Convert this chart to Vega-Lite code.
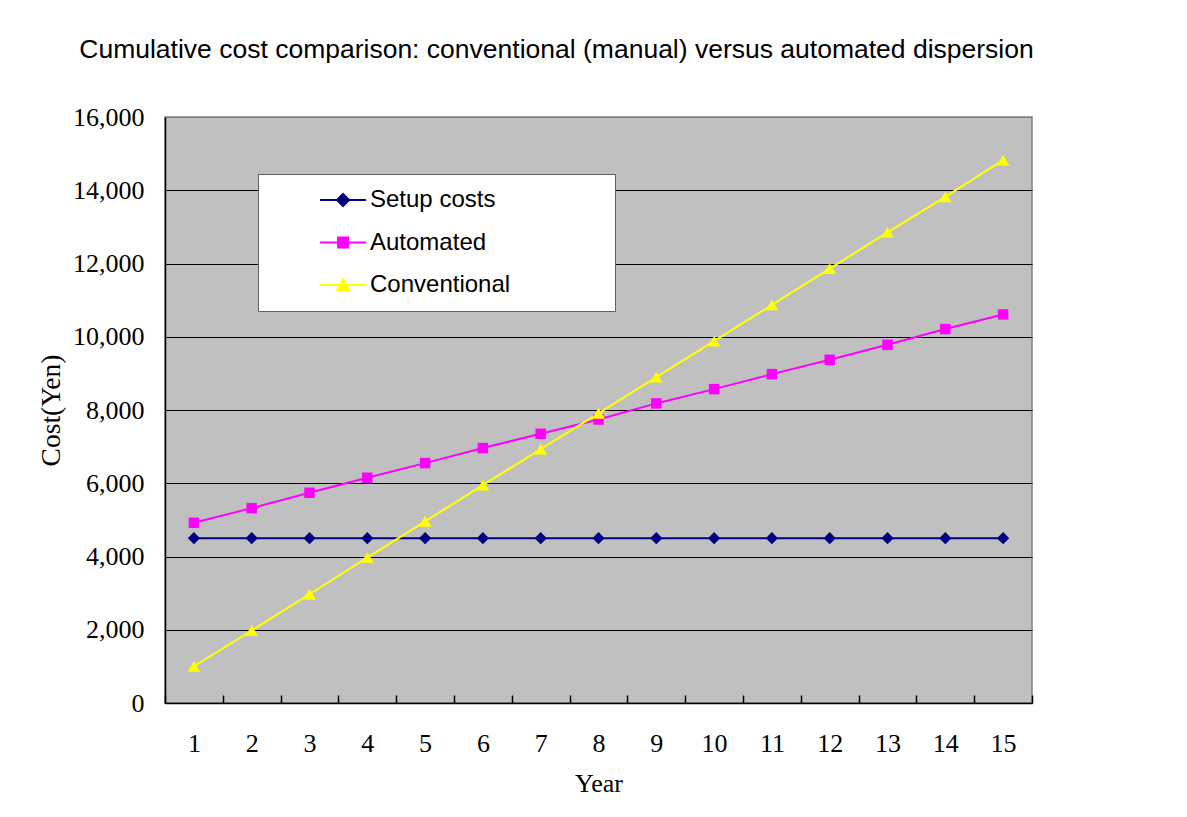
{
  "$schema": "https://vega.github.io/schema/vega-lite/v6.json",
  "width": 867,
  "height": 586,
  "autosize": {"type": "none"},
  "padding": {"left": 165, "top": 117, "right": 155, "bottom": 114},
  "background": "#ffffff",
  "title": {
    "text": "Cumulative cost comparison: conventional (manual) versus automated dispersion",
    "font": "Liberation Sans",
    "fontSize": 26.5,
    "fontWeight": "normal",
    "color": "#000000",
    "anchor": "middle",
    "dx": -42,
    "offset": 20,
    "baseline": "alphabetic"
  },
  "config": {
    "view": {"fill": "#C0C0C0", "stroke": "#808080", "strokeWidth": 1.5},
    "legend": {
      "orient": "none",
      "legendX": 93,
      "legendY": 57,
      "padding": 14,
      "fillColor": "#ffffff",
      "strokeColor": "#606060",
      "symbolSize": 8836,
      "symbolStrokeWidth": 2,
      "symbolOpacity": 1,
      "clipHeight": 24,
      "rowPadding": 18.5,
      "labelFont": "Liberation Sans",
      "labelFontSize": 24,
      "labelColor": "#000000",
      "labelOffset": 2,
      "labelLimit": 0
    }
  },
  "data": {
    "values": [
      {"year": 1, "series": "Setup costs", "cost": 4500},
      {"year": 2, "series": "Setup costs", "cost": 4500},
      {"year": 3, "series": "Setup costs", "cost": 4500},
      {"year": 4, "series": "Setup costs", "cost": 4500},
      {"year": 5, "series": "Setup costs", "cost": 4500},
      {"year": 6, "series": "Setup costs", "cost": 4500},
      {"year": 7, "series": "Setup costs", "cost": 4500},
      {"year": 8, "series": "Setup costs", "cost": 4500},
      {"year": 9, "series": "Setup costs", "cost": 4500},
      {"year": 10, "series": "Setup costs", "cost": 4500},
      {"year": 11, "series": "Setup costs", "cost": 4500},
      {"year": 12, "series": "Setup costs", "cost": 4500},
      {"year": 13, "series": "Setup costs", "cost": 4500},
      {"year": 14, "series": "Setup costs", "cost": 4500},
      {"year": 15, "series": "Setup costs", "cost": 4500},
      {"year": 1, "series": "Automated", "cost": 4920},
      {"year": 2, "series": "Automated", "cost": 5320},
      {"year": 3, "series": "Automated", "cost": 5740},
      {"year": 4, "series": "Automated", "cost": 6150},
      {"year": 5, "series": "Automated", "cost": 6550},
      {"year": 6, "series": "Automated", "cost": 6960},
      {"year": 7, "series": "Automated", "cost": 7350},
      {"year": 8, "series": "Automated", "cost": 7740},
      {"year": 9, "series": "Automated", "cost": 8180},
      {"year": 10, "series": "Automated", "cost": 8570},
      {"year": 11, "series": "Automated", "cost": 8980},
      {"year": 12, "series": "Automated", "cost": 9370},
      {"year": 13, "series": "Automated", "cost": 9780},
      {"year": 14, "series": "Automated", "cost": 10210},
      {"year": 15, "series": "Automated", "cost": 10610},
      {"year": 1, "series": "Conventional", "cost": 1000},
      {"year": 2, "series": "Conventional", "cost": 1980},
      {"year": 3, "series": "Conventional", "cost": 2970},
      {"year": 4, "series": "Conventional", "cost": 3970},
      {"year": 5, "series": "Conventional", "cost": 4960},
      {"year": 6, "series": "Conventional", "cost": 5950},
      {"year": 7, "series": "Conventional", "cost": 6930},
      {"year": 8, "series": "Conventional", "cost": 7910},
      {"year": 9, "series": "Conventional", "cost": 8900},
      {"year": 10, "series": "Conventional", "cost": 9880},
      {"year": 11, "series": "Conventional", "cost": 10870},
      {"year": 12, "series": "Conventional", "cost": 11860},
      {"year": 13, "series": "Conventional", "cost": 12850},
      {"year": 14, "series": "Conventional", "cost": 13820},
      {"year": 15, "series": "Conventional", "cost": 14820}
    ]
  },
  "encoding": {
    "x": {
      "field": "year",
      "type": "ordinal",
      "scale": {"paddingInner": 0, "paddingOuter": 0},
      "axis": {
        "title": "Year",
        "titleFont": "Liberation Serif",
        "titleFontSize": 26,
        "titleFontWeight": "normal",
        "titleColor": "#000000",
        "titleY": 88,
        "titleBaseline": "alphabetic",
        "labelFont": "Liberation Serif",
        "labelFontSize": 26,
        "labelColor": "#000000",
        "labelAngle": 0,
        "labelPadding": 35,
        "tickBand": "extent",
        "tickSize": -8,
        "tickColor": "#000000",
        "tickWidth": 1.5,
        "domainColor": "#000000",
        "domainWidth": 1.5,
        "grid": false
      }
    },
    "y": {
      "field": "cost",
      "type": "quantitative",
      "scale": {"domain": [0, 16000], "nice": false},
      "axis": {
        "title": "Cost(Yen)",
        "titleFont": "Liberation Serif",
        "titleFontSize": 27.5,
        "titleFontWeight": "normal",
        "titleColor": "#000000",
        "titleAngle": -90,
        "titleX": -106,
        "titleY": 293,
        "titleAlign": "center",
        "titleBaseline": "alphabetic",
        "values": [0, 2000, 4000, 6000, 8000, 10000, 12000, 14000, 16000],
        "format": ",.0f",
        "labelFont": "Liberation Serif",
        "labelFontSize": 26,
        "labelColor": "#000000",
        "ticks": false,
        "labelPadding": 21,
        "domainColor": "#000000",
        "domainWidth": 1.5,
        "grid": true,
        "gridColor": {"condition": {"test": "datum.value === 16000", "value": "#808080"}, "value": "#000000"},
        "gridWidth": 1,
        "gridOpacity": 1
      }
    }
  },
  "layer": [
    {
      "mark": {"type": "line", "strokeWidth": 2},
      "encoding": {
        "color": {
          "field": "series",
          "type": "nominal",
          "scale": {"domain": ["Setup costs", "Automated", "Conventional"], "range": ["#000080", "#FF00FF", "#FFFF00"]},
          "legend": null
        }
      }
    },
    {
      "transform": [{"filter": "datum.series === 'Setup costs'"}],
      "mark": {"type": "point", "filled": true, "opacity": 1, "size": 150, "shape": "diamond", "color": "#000080"}
    },
    {
      "transform": [{"filter": "datum.series === 'Automated'"}],
      "mark": {"type": "point", "filled": true, "opacity": 1, "size": 110, "shape": "square", "color": "#FF00FF"}
    },
    {
      "transform": [{"filter": "datum.series === 'Conventional'"}],
      "mark": {"type": "point", "filled": true, "opacity": 1, "size": 160, "shape": "triangle-up", "color": "#FFFF00"}
    },
    {
      "transform": [{"filter": "datum.cost < 0"}],
      "mark": {"type": "point", "filled": true, "size": 8836, "strokeWidth": 2},
      "encoding": {
        "fill": {
          "field": "series",
          "type": "nominal",
          "scale": {"domain": ["Setup costs", "Automated", "Conventional"], "range": ["#000080", "#FF00FF", "#FFFF00"]},
          "legend": {"title": null, "labelExpr": "datum.label + '\u2800\u2800\u2800\u2800\u2800'"}
        },
        "stroke": {
          "field": "series",
          "type": "nominal",
          "scale": {"domain": ["Setup costs", "Automated", "Conventional"], "range": ["#000080", "#FF00FF", "#FFFF00"]},
          "legend": {"title": null, "labelExpr": "datum.label + '\u2800\u2800\u2800\u2800\u2800'"}
        },
        "shape": {
          "field": "series",
          "type": "nominal",
          "scale": {
            "domain": ["Setup costs", "Automated", "Conventional"],
            "range": [
              "M0,0H0.98M0.362,0L0.49,-0.128L0.618,0L0.49,0.128Z",
              "M0,0H0.98M0.384,-0.106H0.596V0.106H0.384Z",
              "M0,0H0.98M0.362,0.11L0.49,-0.12L0.618,0.11Z"
            ]
          },
          "legend": {"title": null, "labelExpr": "datum.label + '\u2800\u2800\u2800\u2800\u2800'"}
        }
      }
    }
  ],
  "resolve": {"scale": {"shape": "independent", "fill": "independent", "stroke": "independent"}}
}
